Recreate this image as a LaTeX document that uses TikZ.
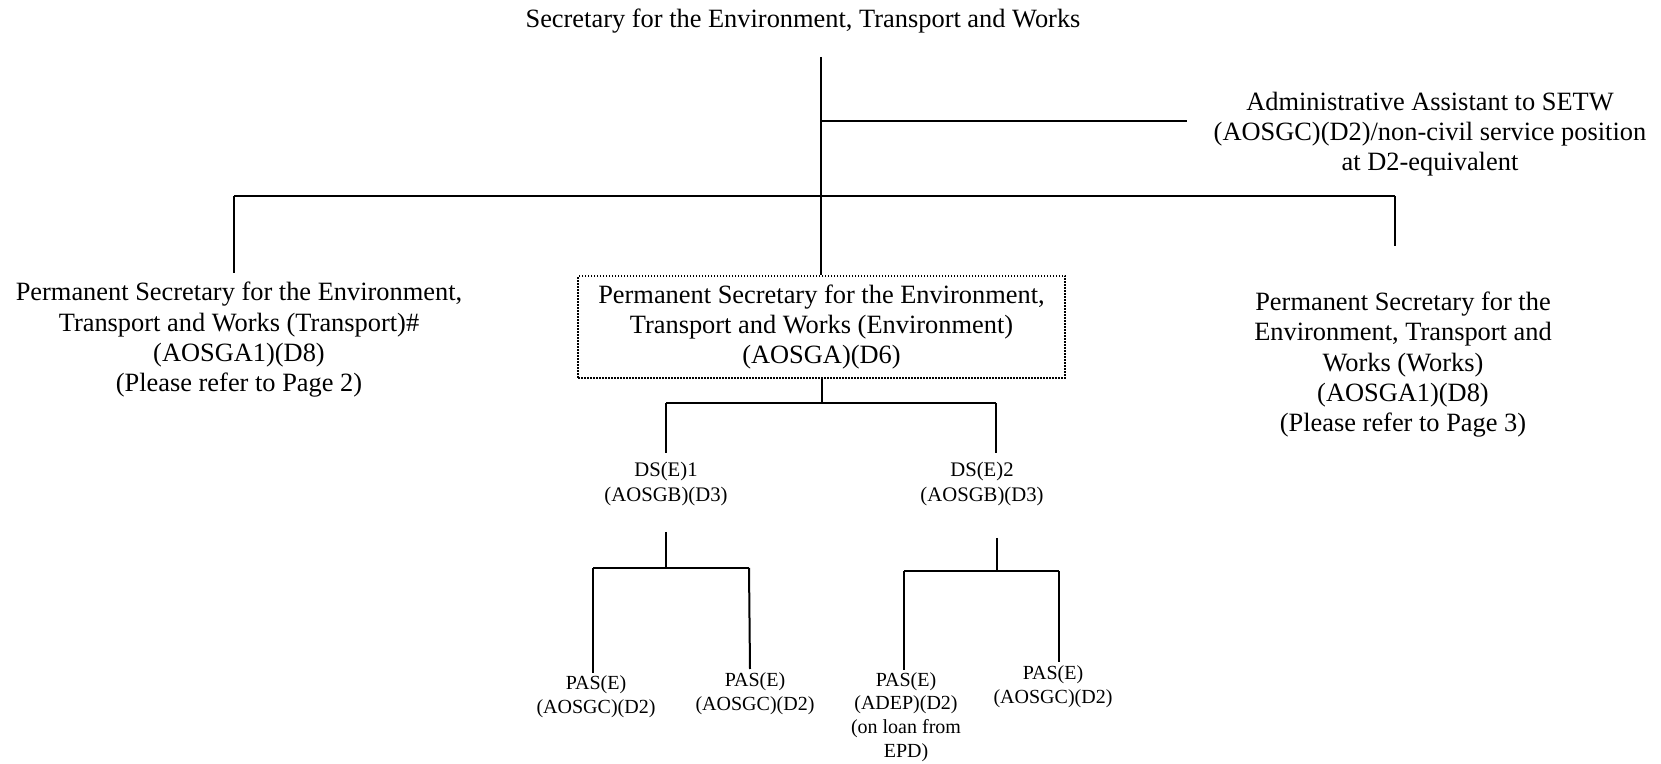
\documentclass[tikz,border=0pt]{standalone}
\usepackage{fontspec}
\setmainfont{Liberation Serif}
\begin{document}
\begin{tikzpicture}[x=0.5pt,y=-0.5pt,
  big/.style={font=\fontsize{13.2}{15.2}\selectfont, align=center, inner sep=0pt, anchor=base},
  mid/.style={font=\fontsize{10.35}{12.5}\selectfont, align=center, inner sep=0pt, anchor=base},
  small/.style={font=\fontsize{10}{11.8}\selectfont, align=center, inner sep=0pt, anchor=base},
  conn/.style={draw=black, line width=1pt},
  dotbox/.style={draw=black, line width=0.75pt, dash pattern=on 0.75pt off 0.75pt,
    minimum width=243.5pt, minimum height=51pt, inner sep=0pt, align=center,
    font=\fontsize{13.2}{15.2}\selectfont}]
\useasboundingbox (0,0) rectangle (1661,764);

% nodes (base anchor = baseline of the last line)
\node[big] (setw) at (803,28) {Secretary for the Environment, Transport and Works};
\node[big] (admin) at (1430,171) {Administrative Assistant to SETW\\(AOSGC)(D2)/non-civil service position\\at D2-equivalent};
\node[big] (ps-t) at (239,392) {Permanent Secretary for the Environment,\\Transport and Works (Transport)\#\\(AOSGA1)(D8)\\(Please refer to Page 2)};
\node[dotbox] (ps-e) at (821.5,327) {Permanent Secretary for the Environment,\\Transport and Works (Environment)\\(AOSGA)(D6)};
\node[big] (ps-w) at (1403,432) {Permanent Secretary for the\\Environment, Transport and\\Works (Works)\\(AOSGA1)(D8)\\(Please refer to Page 3)};
\node[mid] (ds1) at (666,502) {DS(E)1\\(AOSGB)(D3)};
\node[mid] (ds2) at (982,502) {DS(E)2\\(AOSGB)(D3)};
\node[small] (pas1) at (596,713) {PAS(E)\\(AOSGC)(D2)};
\node[small] (pas2) at (755,710) {PAS(E)\\(AOSGC)(D2)};
\node[small] (pas3) at (906,757) {PAS(E)\\(ADEP)(D2)\\(on loan from\\EPD)};
\node[small] (pas4) at (1053,703) {PAS(E)\\(AOSGC)(D2)};

% junction coordinates
\coordinate (top) at (821,57);
\coordinate (jadm) at (821,121);
\coordinate (admend) at (1187,121);
\coordinate (busc) at (821,196);
\coordinate (busl) at (234,196);
\coordinate (busr) at (1395,196);
\coordinate (lend) at (234,273);
\coordinate (rend) at (1395,246);
\coordinate (ej) at (821.5,403);
\coordinate (ejl) at (666,403);
\coordinate (ejr) at (996,403);
\coordinate (d1end) at (666,453);
\coordinate (d2end) at (996,453);
\coordinate (d1top) at (666,532);
\coordinate (d1j) at (666,568);
\coordinate (d1l) at (593,568);
\coordinate (d1r) at (749,568);
\coordinate (p1end) at (593,673);
\coordinate (p2end) at (750,669);
\coordinate (d2top) at (997,538);
\coordinate (d2j) at (997,571);
\coordinate (d2l) at (904,571);
\coordinate (d2r) at (1059,571);
\coordinate (p3end) at (904,670);
\coordinate (p4end) at (1059,662);

% connectors
\draw[conn] (top) -- (busc);
\draw[conn] (jadm) -- (admend);
\draw[conn] (busl) -- (busr);
\draw[conn] (busl) -- (lend);
\draw[conn] (busr) -- (rend);
\draw[conn] (busc) -- (busc |- ps-e.north);
\draw[conn] (ps-e.south) -- (ej);
\draw[conn] (ejl) -- (ejr);
\draw[conn] (ejl) -- (d1end);
\draw[conn] (ejr) -- (d2end);
\draw[conn] (d1top) -- (d1j);
\draw[conn] (d1l) -- (d1r);
\draw[conn] (d1l) -- (p1end);
\draw[conn] (d1r) -- (p2end);
\draw[conn] (d2top) -- (d2j);
\draw[conn] (d2l) -- (d2r);
\draw[conn] (d2l) -- (p3end);
\draw[conn] (d2r) -- (p4end);
\end{tikzpicture}
\end{document}
